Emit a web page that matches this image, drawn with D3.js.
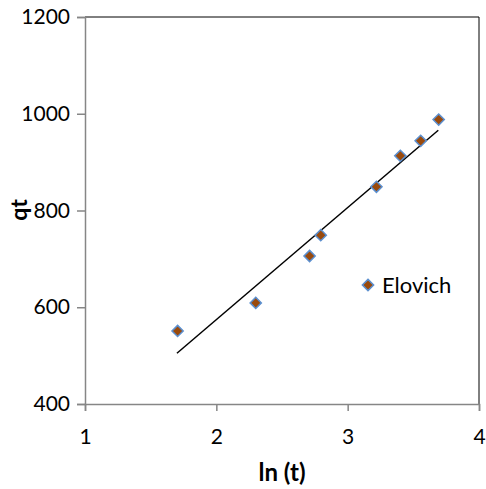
<!DOCTYPE html>
<html>
<head>
<meta charset="utf-8">
<script src="https://cdn.jsdelivr.net/npm/d3@7"></script>
<style>
  body { margin: 0; background: #fff; }
  text { font-family: Lato, "Open Sans", sans-serif; fill: #000; }
</style>
</head>
<body>
<svg id="chart"></svg>
<script>
const width = 486;
const height = 489;
const margin = {top: 17, right: 7, bottom: 85, left: 85};

// values
const lnT = [1.705, 2.30, 2.71, 2.795, 3.219, 3.401, 3.556, 3.693];
const qt = [551, 609, 706, 749, 849, 913, 944, 988];
const trendX = [1.70, 3.69];
const trendY = [505, 966];
const xTicks = [1, 2, 3, 4];
const yTicks = [400, 600, 800, 1000, 1200];
const seriesName = 'Elovich';

const svg = d3.select('#chart')
  .attr('width', width)
  .attr('height', height);

const x = d3.scaleLinear()
  .domain([1, 4])
  .range([margin.left, width - margin.right]);

const y = d3.scaleLinear()
  .domain([400, 1200])
  .range([height - margin.bottom, margin.top]);

// plot border on top and right
svg.append('path')
  .attr('d', `M${x(1)},${y(1200)}H${x(4)}V${y(400)}`)
  .attr('fill', 'none')
  .attr('stroke', '#000')
  .attr('stroke-width', 1);

const xAxis = svg.append('g')
  .attr('transform', `translate(0, ${y(400)})`)
  .call(d3.axisBottom(x).tickValues(xTicks).tickSize(7).tickPadding(18).tickFormat(d3.format('d')));

const yAxis = svg.append('g')
  .attr('transform', `translate(${x(1)}, 0)`)
  .call(d3.axisLeft(y).tickValues(yTicks).tickSize(8).tickPadding(7).tickFormat(d3.format('d')));

[xAxis, yAxis].forEach(g => {
  g.select('.domain').attr('stroke', '#868686').attr('stroke-width', 1.5);
  g.selectAll('.tick line').attr('stroke', '#868686').attr('stroke-width', 1.5);
  g.selectAll('.tick text')
    .style('font-family', 'Lato, "Open Sans", sans-serif')
    .attr('font-size', 21)
    .attr('fill', '#000');
});

// trendline
svg.append('line')
  .attr('x1', x(trendX[0]))
  .attr('y1', y(trendY[0]))
  .attr('x2', x(trendX[1]))
  .attr('y2', y(trendY[1]))
  .attr('stroke', '#000')
  .attr('stroke-width', 1.5);

const diamond = d3.symbol().type(d3.symbolDiamond2).size(80);

svg.append('g')
  .selectAll('path')
  .data(lnT.map((d, i) => ({x: d, y: qt[i]})))
  .enter()
  .append('path')
  .attr('d', diamond)
  .attr('transform', d => `translate(${x(d.x)}, ${y(d.y)})`)
  .attr('fill', '#9A4A0C')
  .attr('stroke', '#5B8FCF')
  .attr('stroke-width', 1.5);

// legend
const legend = svg.append('g').attr('transform', 'translate(368, 285)');
legend.append('path')
  .attr('d', diamond)
  .attr('fill', '#9A4A0C')
  .attr('stroke', '#5B8FCF')
  .attr('stroke-width', 1.5);
legend.append('text')
  .attr('x', 14)
  .attr('y', 0)
  .attr('dy', '0.36em')
  .attr('font-size', 22)
  .text(seriesName);

// axis titles
svg.append('text')
  .attr('x', x(2.5))
  .attr('y', 481)
  .attr('text-anchor', 'middle')
  .attr('font-size', 24)
  .attr('font-weight', 'bold')
  .text('ln (t)');

svg.append('text')
  .attr('transform', `translate(19, 210) rotate(-90)`)
  .attr('text-anchor', 'middle')
  .attr('dy', '0.35em')
  .attr('font-size', 23)
  .attr('font-weight', 'bold')
  .text('qt');
</script>
</body>
</html>
